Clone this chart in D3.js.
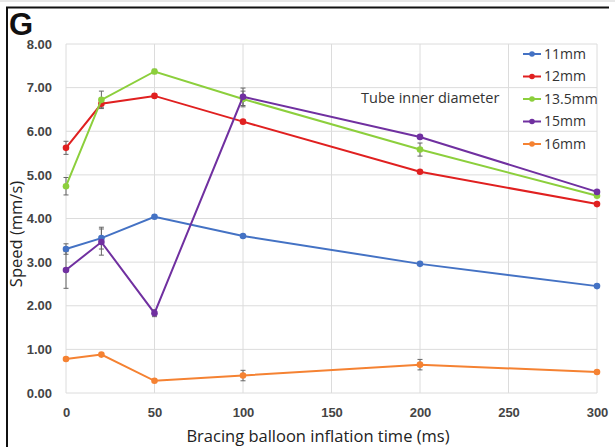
<!DOCTYPE html>
<html>
<head>
<meta charset="utf-8">
<script src="https://cdn.jsdelivr.net/npm/d3@7"></script>
<style>
  body { margin: 0; background: #fff; }
  svg { display: block; font-family: "Open Sans", "DejaVu Sans", sans-serif; }
</style>
</head>
<body>
<div id="chart"></div>
<script>
const times = [0, 20, 50, 100, 200, 300];
const seriesNames = ["11mm", "12mm", "13.5mm", "15mm", "16mm"];
const colors = ["#4472c4", "#e02020", "#8ccf3c", "#7030a0", "#f58232"];

const speed11 = [3.30, 3.55, 4.04, 3.60, 2.96, 2.45];
const speed12 = [5.62, 6.63, 6.81, 6.22, 5.07, 4.33];
const speed135 = [4.74, 6.72, 7.37, 6.74, 5.58, 4.52];
const speed15 = [2.82, 3.46, 1.83, 6.79, 5.87, 4.61];
const speed16 = [0.78, 0.88, 0.28, 0.40, 0.65, 0.48];

const err11 = [0.12, 0.25, 0, 0, 0, 0];
const err12 = [0.15, 0.08, 0, 0, 0, 0];
const err135 = [0.20, 0.20, 0.05, 0.18, 0.15, 0];
const err15 = [0.42, 0.30, 0.08, 0.20, 0, 0];
const err16 = [0, 0, 0, 0.12, 0.12, 0];

const yTicks = [0, 1, 2, 3, 4, 5, 6, 7, 8];
const xTicks = [0, 50, 100, 150, 200, 250, 300];

const allSpeeds = [speed11, speed12, speed135, speed15, speed16];
const allErrs = [err11, err12, err135, err15, err16];

const W = 615, H = 447;
const margin = {top: 44, right: 18, bottom: 54, left: 66};
const width = W - margin.left - margin.right;
const height = H - margin.top - margin.bottom;

const root = d3.select("#chart").append("svg")
  .attr("width", W)
  .attr("height", H);

// outer frame
root.append("line").attr("x1", 0).attr("x2", W).attr("y1", 1).attr("y2", 1)
  .style("stroke", "#cfcfcf").style("stroke-width", 1);
root.append("line").attr("x1", 6).attr("x2", 609).attr("y1", 7.5).attr("y2", 7.5)
  .style("stroke", "#111").style("stroke-width", 2);
root.append("line").attr("x1", 7).attr("x2", 7).attr("y1", 7).attr("y2", H)
  .style("stroke", "#111").style("stroke-width", 2);

root.append("text")
  .attr("x", 9).attr("y", 35)
  .style("font-family", "Liberation Sans, Arial, sans-serif")
  .style("font-weight", "bold")
  .style("font-size", "31px")
  .style("fill", "#111")
  .text("G");

const svg = root.append("g")
  .attr("transform", "translate(" + margin.left + "," + margin.top + ")");

const x = d3.scaleLinear().domain([0, 300]).range([0, width]);
const y = d3.scaleLinear().domain([0, 8]).range([height, 0]);

// grid
svg.append("g")
  .attr("class", "grid")
  .selectAll("line.h")
  .data(yTicks)
  .enter().append("line")
  .attr("x1", 0).attr("x2", width)
  .attr("y1", d => y(d)).attr("y2", d => y(d))
  .style("stroke", "#dcdcdc").style("stroke-width", 1);

svg.append("g")
  .attr("class", "grid")
  .selectAll("line.v")
  .data(xTicks)
  .enter().append("line")
  .attr("x1", d => x(d)).attr("x2", d => x(d))
  .attr("y1", 0).attr("y2", height)
  .style("stroke", "#dcdcdc").style("stroke-width", 1);

const yAxis = d3.axisLeft(y)
  .tickValues(yTicks)
  .tickSize(0)
  .tickPadding(14)
  .tickFormat(d3.format(".2f"));

const xAxis = d3.axisBottom(x)
  .tickValues(xTicks)
  .tickSize(0)
  .tickPadding(15);

const gy = svg.append("g").attr("class", "y axis").call(yAxis);
gy.select(".domain").remove();
gy.selectAll("text")
  .style("font-size", "13px").style("font-weight", "600").style("fill", "#444");

const gx = svg.append("g").attr("class", "x axis")
  .attr("transform", "translate(0," + height + ")")
  .call(xAxis);
gx.select(".domain").remove();
gx.selectAll("text")
  .style("font-size", "13px").style("font-weight", "600").style("fill", "#444");

// axis titles
root.append("text")
  .attr("transform", "translate(22,234) rotate(-90)")
  .attr("text-anchor", "middle")
  .style("font-size", "16.5px")
  .style("fill", "#222")
  .text("Speed (mm/s)");

root.append("text")
  .attr("x", 318)
  .attr("y", 442)
  .attr("text-anchor", "middle")
  .style("font-size", "16.5px")
  .style("fill", "#222")
  .text("Bracing balloon inflation time (ms)");

const data = seriesNames.map((name, i) => ({
  name: name,
  color: colors[i],
  values: times.map((t, j) => ({t: t, v: allSpeeds[i][j], e: allErrs[i][j]}))
}));

const line = d3.line().x(d => x(d.t)).y(d => y(d.v));

// error bars
data.forEach(s => {
  const bars = svg.append("g").attr("class", "err")
    .selectAll("g")
    .data(s.values.filter(d => d.e > 0))
    .enter().append("g");
  bars.append("line")
    .attr("x1", d => x(d.t)).attr("x2", d => x(d.t))
    .attr("y1", d => y(d.v - d.e)).attr("y2", d => y(d.v + d.e))
    .style("stroke", "#666").style("stroke-width", 1);
  bars.append("line")
    .attr("x1", d => x(d.t) - 2.5).attr("x2", d => x(d.t) + 2.5)
    .attr("y1", d => y(d.v - d.e)).attr("y2", d => y(d.v - d.e))
    .style("stroke", "#666").style("stroke-width", 1);
  bars.append("line")
    .attr("x1", d => x(d.t) - 2.5).attr("x2", d => x(d.t) + 2.5)
    .attr("y1", d => y(d.v + d.e)).attr("y2", d => y(d.v + d.e))
    .style("stroke", "#666").style("stroke-width", 1);
});

data.forEach(s => {
  svg.append("path")
    .datum(s.values)
    .attr("d", line)
    .style("fill", "none")
    .style("stroke", s.color)
    .style("stroke-width", 2);

  svg.append("g")
    .selectAll("circle")
    .data(s.values)
    .enter().append("circle")
    .attr("cx", d => x(d.t))
    .attr("cy", d => y(d.v))
    .attr("r", 3.3)
    .style("fill", s.color);
});

// legend
const legend = root.append("g")
  .attr("transform", "translate(523,54)")
  .selectAll("g")
  .data(data)
  .enter().append("g")
  .attr("transform", (d, i) => "translate(0," + i * 22.5 + ")");

legend.append("line")
  .attr("x1", 0).attr("x2", 18)
  .style("stroke", d => d.color).style("stroke-width", 2);
legend.append("circle")
  .attr("cx", 9).attr("r", 2.8)
  .style("fill", d => d.color);
legend.append("text")
  .attr("x", 21).attr("dy", "0.35em")
  .style("font-size", "14px")
  .style("fill", "#333")
  .text(d => d.name);

root.append("text")
  .attr("x", 361).attr("y", 103)
  .style("font-size", "14.5px")
  .style("fill", "#333")
  .text("Tube inner diameter");
</script>
</body>
</html>
